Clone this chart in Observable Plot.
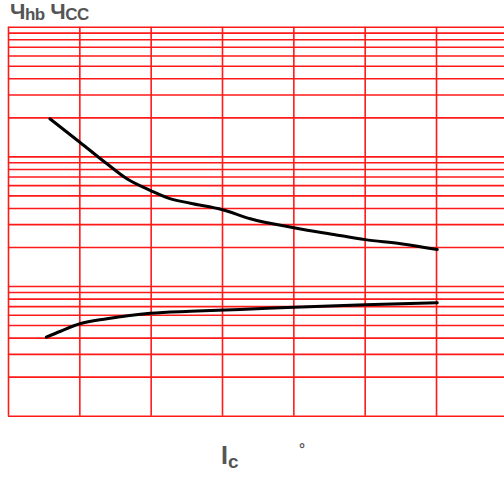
<!DOCTYPE html>
<html>
<head>
<meta charset="utf-8">
<script src="https://cdn.jsdelivr.net/npm/d3@7"></script>
<script src="https://cdn.jsdelivr.net/npm/@observablehq/plot@0.6"></script>
<style>
  html, body { margin: 0; padding: 0; background: #fff; }
  #wrap { position: relative; width: 504px; height: 479px; overflow: hidden; font-family: "Liberation Sans", Arial, sans-serif; }
  #title { position: absolute; left: 10px; top: 0px; height: 24px; line-height: 24px; color: #555; font-weight: bold; font-size: 22px; white-space: nowrap; letter-spacing: -0.5px; }
  #title .sub { font-size: 17px; position: relative; top: 1px; }
  #chart { position: absolute; left: 0; top: 22px; }
  #xlabel { position: absolute; left: 221px; top: 441px; color: #555; font-weight: bold; font-size: 25px; }
  #xlabel .sub { font-size: 19px; position: relative; top: 4px; }
  #deg { position: absolute; left: 299px; top: 440px; color: #555; font-size: 15px; font-weight: bold; }
</style>
</head>
<body>
<div id="wrap">
  <div id="title">Ч<span class="sub">hb</span>&nbsp;Ч<span class="sub">CC</span></div>
  <div id="chart"></div>
  <div id="xlabel">I<span class="sub">c</span></div>
  <div id="deg">°</div>
</div>
<script>
// Grid values
const gridX = [0, 1, 2, 3, 4, 5, 6];
const gridY = [1, 2, 3, 4, 5, 6, 7, 8, 9, 10, 20, 30, 40, 50, 60, 70, 80, 90, 100, 200, 300, 400, 500, 600, 700, 800, 900, 1000];

// Upper curve (hib)
const upperX = [0.58, 1.0, 1.38, 1.66, 1.99, 2.23, 2.55, 3.0, 3.39, 4.0, 4.56, 5.0, 5.5, 6.01];
const upperY = [196.6, 129.7, 88.4, 67.7, 55.0, 48.3, 43.9, 39.1, 33.3, 28.4, 25.2, 23.0, 21.4, 19.3];

// Lower curve (hcc)
const lowerX = [0.53, 0.73, 1.0, 1.38, 1.99, 2.55, 3.25, 4.0, 5.0, 6.01];
const lowerY = [4.07, 4.52, 5.16, 5.64, 6.23, 6.45, 6.65, 6.93, 7.23, 7.49];

const upper = upperX.map((x, i) => ({x, y: upperY[i]}));
const lower = lowerX.map((x, i) => ({x, y: lowerY[i]}));

const chart = Plot.plot({
  width: 504,
  height: 410,
  marginLeft: 8,
  marginRight: 0,
  marginTop: 4.7,
  marginBottom: 16.3,
  x: {domain: [0, 6.953], axis: null},
  y: {type: "log", domain: [1, 1000], axis: null},
  marks: [
    Plot.ruleY(gridY, {stroke: "#ff1a1a", strokeWidth: 1.6}),
    Plot.ruleX(gridX, {stroke: "#ff1a1a", strokeWidth: 1.6}),
    Plot.line(upper, {x: "x", y: "y", stroke: "#000", strokeWidth: 3, curve: "monotone-x"}),
    Plot.line(lower, {x: "x", y: "y", stroke: "#000", strokeWidth: 3, curve: "monotone-x"})
  ]
});
document.getElementById("chart").appendChild(chart);
</script>
</body>
</html>
